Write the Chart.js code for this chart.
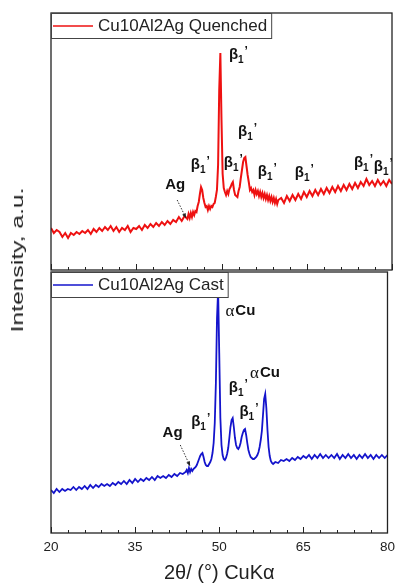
<!DOCTYPE html>
<html lang="en">
<head>
    <meta charset="UTF-8">
    <title>XRD - Cu10Al2Ag</title>
    <script src="https://cdn.jsdelivr.net/npm/chart.js"></script>
    <style>
        html, body { margin: 0; padding: 0; background: #fff; }
        #wrap { position: relative; width: 401px; height: 587px; overflow: hidden; }
        .box { position: absolute; left: 0; width: 401px; }
        #ytitle {
            position: absolute; left: 18px; top: 260px;
            font-family: "Liberation Sans", Arial, sans-serif; font-size: 17px; color: #222;
            white-space: nowrap;
            transform: translate(-50%, -50%) rotate(-90deg) scaleX(1.45);
        }
    </style>
</head>
<body>
<div id="wrap">
    <div class="box" style="top:0;height:271px"><canvas id="topChart"></canvas></div>
    <div class="box" style="top:271px;height:316px"><canvas id="bottomChart"></canvas></div>
    <div id="ytitle">Intensity, a.u.</div>
</div>

<script>
// 2theta grid (deg) shared by both scans
const twoTheta = [
    20,20.5,21,21.5,22,22.5,23,23.5,24,24.5,25,25.5,26,26.5,27,27.5,28,28.5,29,29.5,
    30,30.5,31,31.5,32,32.5,33,33.5,34,34.5,35,35.5,36,36.5,37,37.5,38,38.5,39,39.5,
    40,40.5,41,41.5,42,42.5,43,43.5,44,
    44.2,44.4,44.6,44.8,45,45.2,45.4,45.6,45.8,46,46.2,46.4,46.6,46.8,47,47.2,47.4,47.6,47.8,48,
    48.2,48.4,48.6,48.8,49,49.2,49.4,49.6,49.8,50,50.2,50.4,50.6,50.8,51,51.2,51.4,51.6,51.8,52,
    52.2,52.4,52.6,52.8,53,53.2,53.4,53.6,53.8,54,54.2,54.4,54.6,54.8,55,55.2,55.4,55.6,55.8,56,
    56.2,56.4,56.6,56.8,57,57.2,57.4,57.6,57.8,58,58.2,58.4,58.6,58.8,59,59.2,59.4,59.6,59.8,60,
    60.5,61,61.5,62,62.5,63,63.5,64,64.5,65,65.5,66,66.5,67,67.5,68,68.5,69,69.5,70,
    70.5,71,71.5,72,72.5,73,73.5,74,74.5,75,75.5,76,76.5,77,77.5,78,78.5,79,79.5,80
];

// intensity, a.u.
const quenched = [
    42,37,40,38,33,37,32,37,35,38,36,39,37,40,36,41,38,42,39,43,
    40,44,39,43,38,42,40,44,38,42,41,44,40,45,42,46,43,47,44,48,
    45,49,46,50,48,53,49,54,51,
    56,52,57,53,58,55,59,58,64,68,76,83,80,72,67,63,64,60,64,61,
    64,63,66,67,73,80,105,180,217,150,96,82,78,75,79,76,81,83,86,88,
    80,75,74,73,79,83,92,100,108,112,113,104,95,88,80,82,78,80,75,80,
    76,79,74,78,73,77,72,76,71,75,70,74,69,73,68,72,67,71,66,70,
    72,67,74,69,75,70,76,71,78,73,79,74,80,75,81,76,82,77,83,78,
    84,79,85,80,86,81,87,82,88,84,91,85,89,84,90,85,89,84,90,86
];

const cast = [
    43,40,44,41,44,42,44,43,46,43,46,44,47,44,48,45,48,46,49,47,
    49,47,50,48,51,49,52,49,53,50,54,51,54,52,55,53,56,53,57,55,
    57,55,58,56,59,57,60,59,61,
    63,60,65,61,64,62,64,65,66,68,71,74,77,79,80,76,71,68,67,67,
    69,71,74,80,90,110,150,215,243,180,115,88,78,74,73,75,79,85,95,106,
    113,115,106,95,88,85,84,86,90,96,100,103,104,98,90,83,79,76,75,74,
    74,75,76,78,81,86,93,102,118,134,139,125,103,86,77,72,70,69,70,71,
    70,73,72,74,72,75,73,76,74,77,75,78,74,78,75,79,75,78,75,78,
    75,79,74,78,75,79,75,78,74,78,75,79,75,78,74,78,75,78,75,78
];

const xTicks = [20, 35, 50, 65, 80];

// phase labels: [2theta, intensity, text]
const quenchedPhases = [
    [51.3, 215, "β1'"], [52.9, 138, "β1'"], [44.6, 105, "β1'"], [50.4, 107, "β1'"],
    [56.4, 98, "β1'"], [62.9, 97, "β1'"], [73.3, 107, "β1'"], [76.8, 103, "β1'"],
    [40.1, 85, "Ag"]
];
const castPhases = [
    [51.1, 222, "αCu"], [55.5, 160, "αCu"], [51.7, 145, "β1'"], [53.6, 121, "β1'"],
    [45.0, 111, "β1'"], [39.9, 100, "Ag"]
];
// dotted arrows for Ag: [x1, y1, x2, y2]
const quenchedArrow = [42.2, 70, 43.75, 52];
const castArrow = [43.05, 88, 44.8, 67];

const SANS = '"Liberation Sans", Arial, sans-serif';

function drawPhase(ctx, text, px, py) {
    ctx.fillStyle = '#111';
    ctx.textAlign = 'left';
    ctx.textBaseline = 'middle';
    if (text === "β1'") {
        ctx.font = 'bold 15px ' + SANS;
        ctx.fillText('β', px, py);
        const w = ctx.measureText('β').width;
        ctx.font = 'bold 10px ' + SANS;
        ctx.fillText('1', px + w, py + 5);
        const w1 = ctx.measureText('1').width;
        ctx.font = 'bold 12px ' + SANS;
        ctx.fillText('’', px + w + w1 + 1, py - 3);
    } else if (text === 'αCu') {
        ctx.font = '17px "Liberation Serif", serif';
        ctx.fillText('α', px, py + 1);
        const w = ctx.measureText('α').width;
        ctx.font = 'bold 15px ' + SANS;
        ctx.fillText('Cu', px + w + 1, py);
    } else {
        ctx.font = 'bold 15px ' + SANS;
        ctx.fillText(text, px, py);
    }
}

const panelPlugin = {
    id: 'panel',
    afterDatasetsDraw(chart, args, opts) {
        const { ctx, chartArea: a, scales: { x, y } } = chart;
        ctx.save();

        // inward ticks on the bottom edge
        ctx.strokeStyle = '#222';
        ctx.lineWidth = 1;
        for (let t = 20; t <= 80; t += 3) {
            const px = Math.round(x.getPixelForValue(t)) + 0.5;
            const len = xTicks.includes(t) ? 6 : 3;
            ctx.beginPath();
            ctx.moveTo(px, a.bottom);
            ctx.lineTo(px, a.bottom - len);
            ctx.stroke();
        }

        // phase labels
        opts.phases.forEach(p => {
            drawPhase(ctx, p[2], x.getPixelForValue(p[0]), y.getPixelForValue(p[1]));
        });

        // dotted arrow
        const [ax1, ay1, ax2, ay2] = opts.arrow;
        const x1 = x.getPixelForValue(ax1), y1 = y.getPixelForValue(ay1);
        const x2 = x.getPixelForValue(ax2), y2 = y.getPixelForValue(ay2);
        ctx.strokeStyle = '#333';
        ctx.setLineDash([1.5, 1.5]);
        ctx.beginPath();
        ctx.moveTo(x1, y1);
        ctx.lineTo(x2, y2);
        ctx.stroke();
        ctx.setLineDash([]);
        const ang = Math.atan2(y2 - y1, x2 - x1);
        ctx.fillStyle = '#222';
        ctx.beginPath();
        ctx.moveTo(x2, y2);
        ctx.lineTo(x2 - 5 * Math.cos(ang - 0.4), y2 - 5 * Math.sin(ang - 0.4));
        ctx.lineTo(x2 - 5 * Math.cos(ang + 0.4), y2 - 5 * Math.sin(ang + 0.4));
        ctx.closePath();
        ctx.fill();

        // frame
        ctx.strokeStyle = '#222';
        ctx.lineWidth = 1.3;
        ctx.strokeRect(a.left, a.top, a.width, a.height);

        // legend box
        const ds = chart.data.datasets[0];
        ctx.font = '17px ' + SANS;
        const tw = ctx.measureText(ds.label).width;
        const bw = 47 + tw + 4, bh = 25;
        ctx.fillStyle = '#fff';
        ctx.fillRect(a.left, a.top, bw, bh);
        ctx.strokeStyle = '#444';
        ctx.lineWidth = 1;
        ctx.strokeRect(a.left + 0.5, a.top + 0.5, bw, bh);
        ctx.strokeStyle = ds.borderColor;
        ctx.lineWidth = 1.5;
        ctx.beginPath();
        ctx.moveTo(a.left + 2, a.top + 13);
        ctx.lineTo(a.left + 42, a.top + 13);
        ctx.stroke();
        ctx.fillStyle = '#222';
        ctx.textAlign = 'left';
        ctx.textBaseline = 'middle';
        ctx.fillText(ds.label, a.left + 47, a.top + 13);

        ctx.restore();
    }
};

function makeChart(id, label, values, color, lw, yMax, pad, showX, phases, arrow) {
    return new Chart(document.getElementById(id), {
        type: 'line',
        data: {
            datasets: [{
                label: label,
                data: twoTheta.map((t, i) => ({ x: t, y: values[i] })),
                borderColor: color,
                borderWidth: lw,
                pointRadius: 0,
                tension: 0,
                fill: false
            }]
        },
        options: {
            responsive: true,
            maintainAspectRatio: false,
            animation: false,
            layout: { padding: pad },
            plugins: {
                legend: { display: false },
                tooltip: { enabled: false },
                panel: { phases: phases, arrow: arrow }
            },
            scales: {
                x: {
                    type: 'linear',
                    min: 20,
                    max: 80,
                    display: showX,
                    grid: { display: false, drawTicks: false },
                    border: { display: false },
                    afterBuildTicks: s => { s.ticks = xTicks.map(v => ({ value: v })); },
                    afterFit: s => { s.height = showX ? 54 : 0; },
                    ticks: {
                        padding: 6,
                        color: '#222',
                        font: { family: SANS, size: 13.5 }
                    },
                    title: {
                        display: true,
                        text: '2θ/ (°) CuKα',
                        color: '#222',
                        font: { family: SANS, size: 20 },
                        padding: { top: 0, bottom: 2 }
                    }
                },
                y: {
                    display: false,
                    min: 0,
                    max: yMax
                }
            }
        },
        plugins: [panelPlugin]
    });
}

makeChart('topChart', 'Cu10Al2Ag Quenched', quenched, '#ee1111', 2, 257,
    { left: 51, right: 9, top: 13, bottom: 1 }, false, quenchedPhases, quenchedArrow);
makeChart('bottomChart', 'Cu10Al2Ag Cast', cast, '#1414cc', 1.8, 261,
    { left: 51, right: 9, top: 1, bottom: 0 }, true, castPhases, castArrow);
</script>
</body>
</html>
